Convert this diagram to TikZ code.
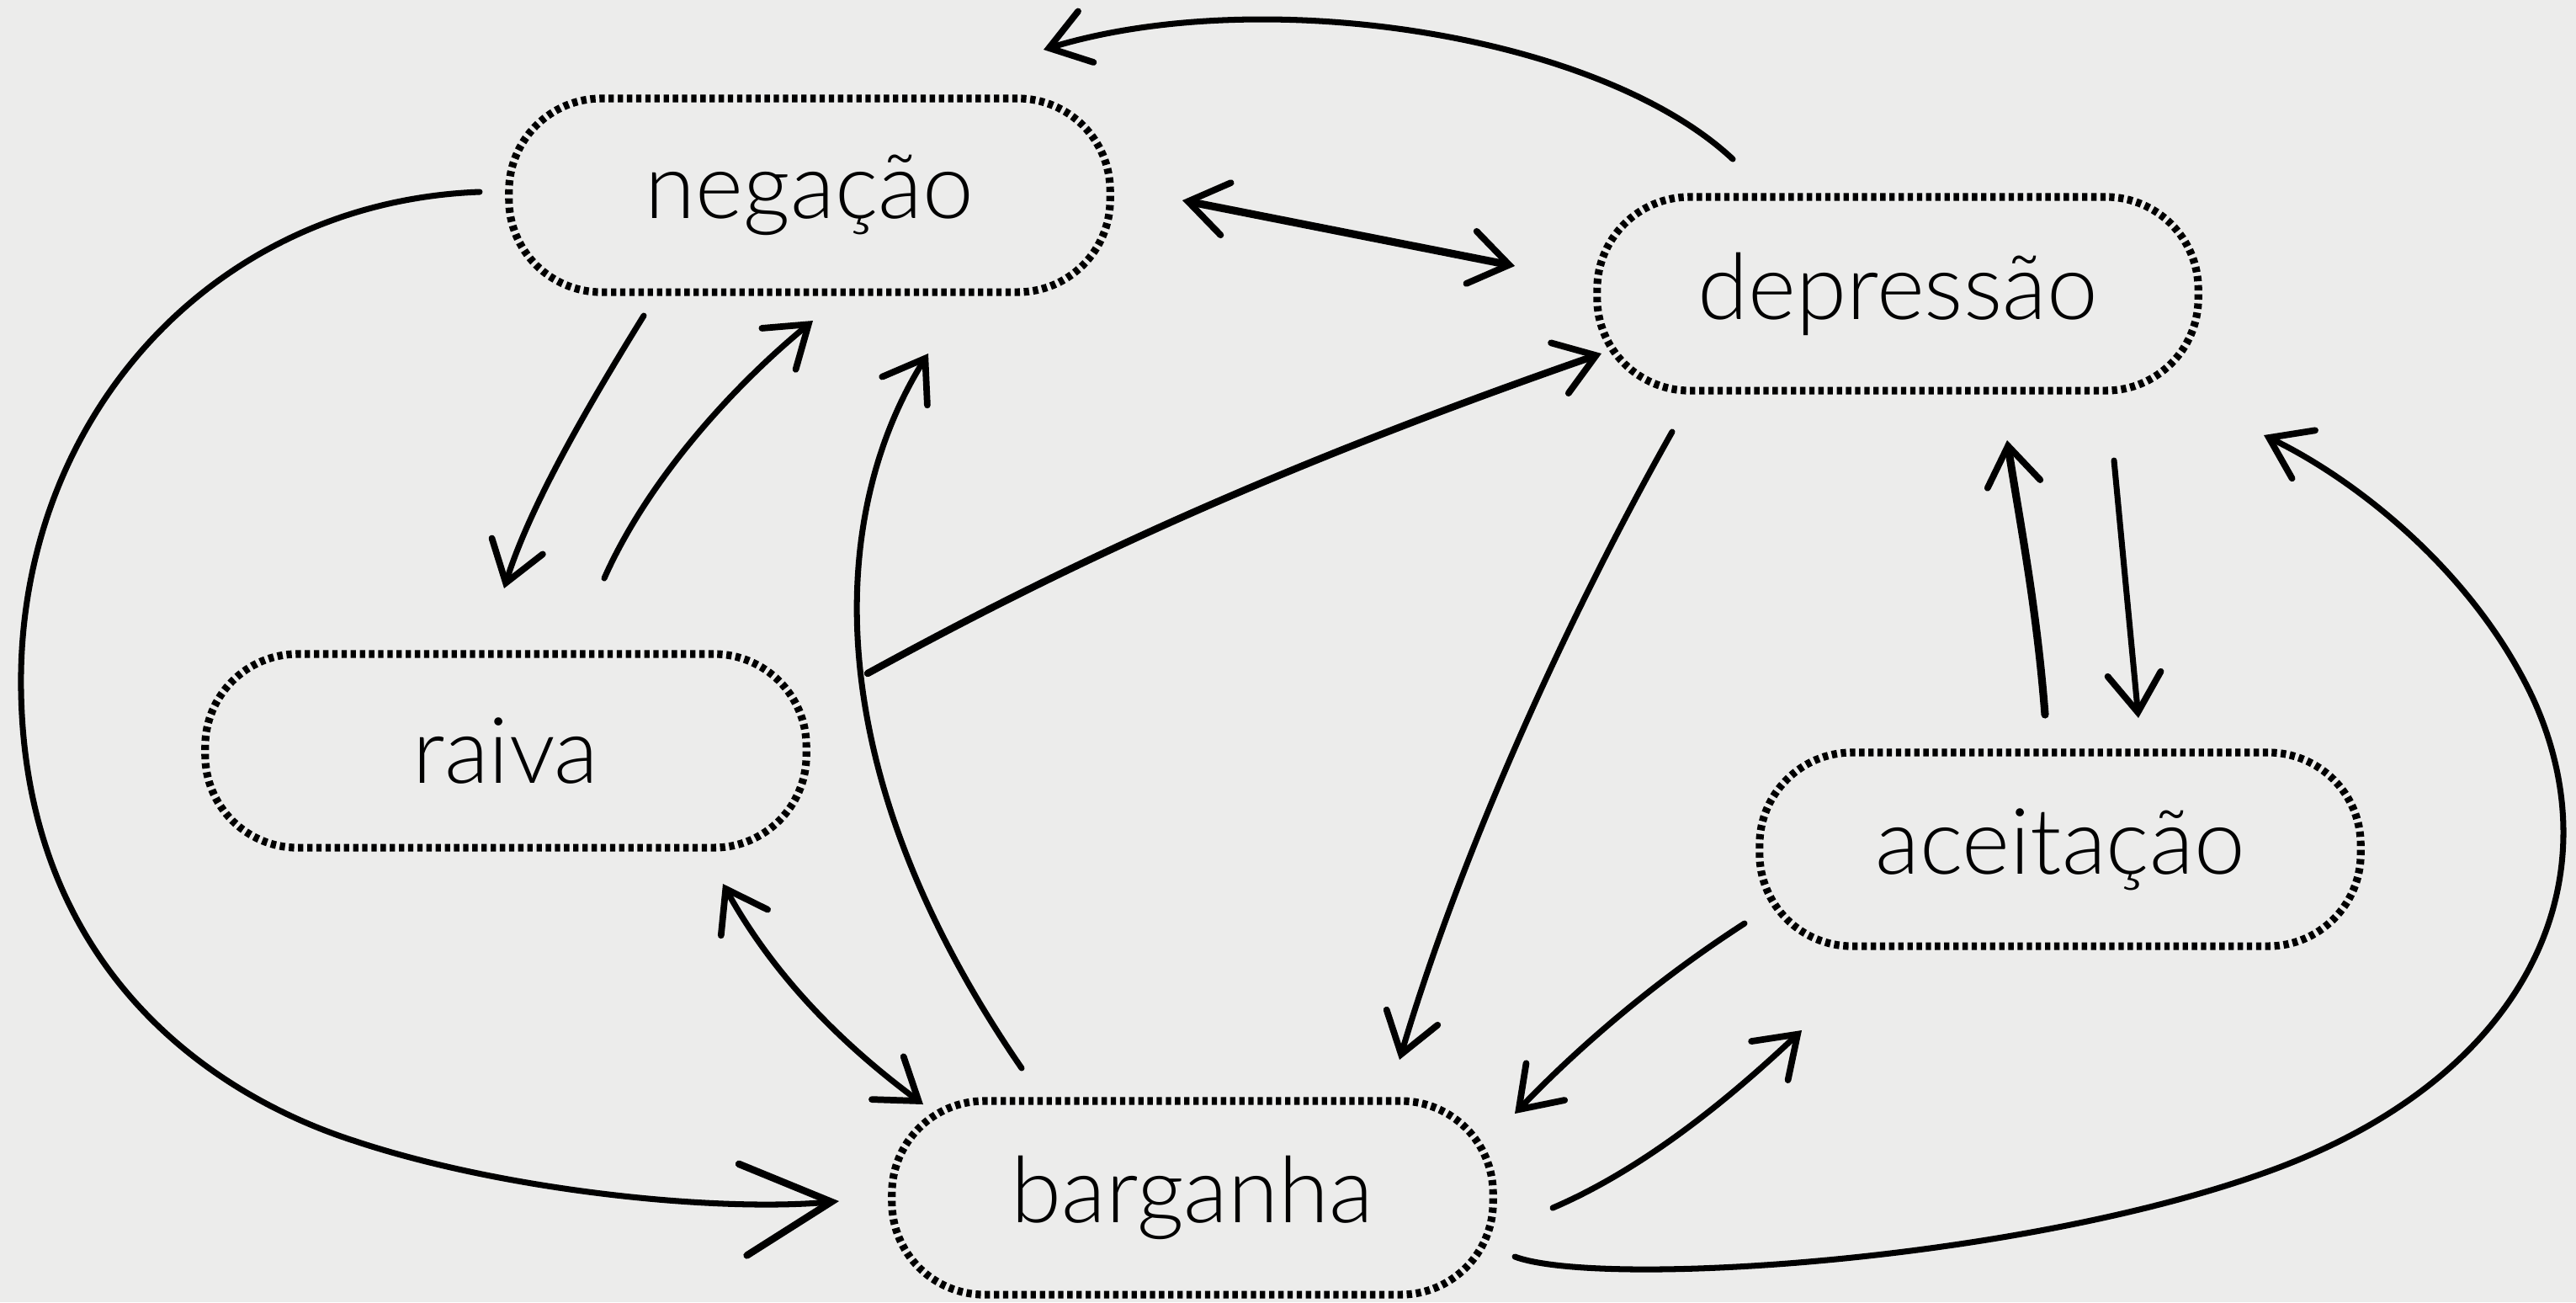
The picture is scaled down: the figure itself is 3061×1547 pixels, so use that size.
\documentclass[tikz,border=0pt]{standalone}
\usepackage{fontspec}
\setmainfont{Lato Light}
\usetikzlibrary{arrows.meta}
\definecolor{paper}{RGB}{236,236,235}
\tikzset{
  stage/.style={draw=black, line width=2.6pt, dash pattern=on 1.8pt off 1.3pt,
    rounded corners=1.1cm, minimum width=7.14cm, minimum height=2.3cm,
    inner sep=0pt, font=\fontsize{31}{36}\selectfont, text=black},
  tip/.tip={Straight Barb[length=13pt,width=18pt,line width=2.2pt,line cap=round]},
  bigtip/.tip={Straight Barb[length=30pt,width=31pt,line width=2.4pt,line cap=round]},
  link/.style={line width=2pt, line cap=round, line join=round, -tip},
  blink/.style={link, tip-tip}
}
\begin{document}
\begin{tikzpicture}[x=0.01cm, y=-0.01cm]
\fill[paper] (0,0) rectangle (3061,1547);
\useasboundingbox (0,0) rectangle (3061,1547);

\node[stage] (neg) at (962,232) {negação};
\node[stage] (dep) at (2255,349) {depressão};
\node[stage] (rai) at (601,892) {raiva};
\node[stage] (ace) at (2448,1009) {aceitação};
\node[stage] (bar) at (1417,1423) {barganha};

% endpoints
\coordinate (p1a) at (2059,189);  \coordinate (p1b) at (1240,59);
\coordinate (p2a) at (1405,238);  \coordinate (p2b) at (1800,316);
\coordinate (p3a) at (765,375);   \coordinate (p3b) at (599,699);
\coordinate (p4a) at (718,687);   \coordinate (p4b) at (966,381);
\coordinate (p5a) at (1214,1269); \coordinate (p5b) at (1103,420);
\coordinate (p6a) at (1031,800);  \coordinate (p6b) at (1903,420);
\coordinate (p7a) at (1987,513);  \coordinate (p7b) at (1663,1259);
\coordinate (p8a) at (2430,849);  \coordinate (p8b) at (2385,523);
\coordinate (p9a) at (2512,547);  \coordinate (p9b) at (2541,853);
\coordinate (p10a) at (2073,1097); \coordinate (p10b) at (1800,1323);
\coordinate (p11a) at (1845,1435); \coordinate (p11b) at (2141,1224);
\coordinate (p12a) at (1800,1493); \coordinate (p12b) at (2690,517);
\coordinate (p13a) at (570,228);  \coordinate (p13b) at (997,1427);
\coordinate (p14a) at (859,1050); \coordinate (p14b) at (1097,1312);

% depressao -> negacao (top arc)
\draw[link] (p1a) .. controls (1900,40) and (1500,-20) .. (p1b);
% negacao <-> depressao
\draw[blink, line width=2.6pt] (p2a) -- (p2b);
% negacao -> raiva
\draw[link] (p3a) .. controls (700,480) and (630,600) .. (p3b);
% raiva -> negacao
\draw[link] (p4a) .. controls (770,570) and (870,460) .. (p4b);
% barganha -> negacao
\draw[link] (p5a) .. controls (960,900) and (990,600) .. (p5b);
% -> depressao
\draw[link, line width=2.4pt] (p6a) .. controls (1250,680) and (1500,560) .. (p6b);
% depressao -> barganha
\draw[link] (p7a) .. controls (1870,720) and (1740,1000) .. (p7b);
% aceitacao -> depressao
\draw[link, line width=2.6pt] (p8a) .. controls (2420,720) and (2400,620) .. (p8b);
% depressao -> aceitacao
\draw[link] (p9a) -- (p9b);
% aceitacao -> barganha
\draw[link] (p10a) .. controls (1960,1170) and (1870,1250) .. (p10b);
% barganha -> aceitacao
\draw[link] (p11a) .. controls (1950,1390) and (2050,1310) .. (p11b);
% barganha -> depressao (right arc)
\draw[link] (p12a) .. controls (1900,1530) and (2400,1500) .. (2700,1390)
  .. controls (3000,1280) and (3110,1050) .. (3010,830)
  .. controls (2940,680) and (2800,570) .. (p12b);
% negacao -> barganha (left arc)
\draw[line width=2pt, line cap=round, -bigtip] (p13a) .. controls (250,240) and (20,500) .. (25,820)
  .. controls (30,1150) and (250,1300) .. (420,1355)
  .. controls (600,1415) and (850,1440) .. (p13b);
% raiva <-> barganha
\draw[blink] (p14a) .. controls (920,1160) and (1000,1240) .. (p14b);
\end{tikzpicture}
\end{document}
